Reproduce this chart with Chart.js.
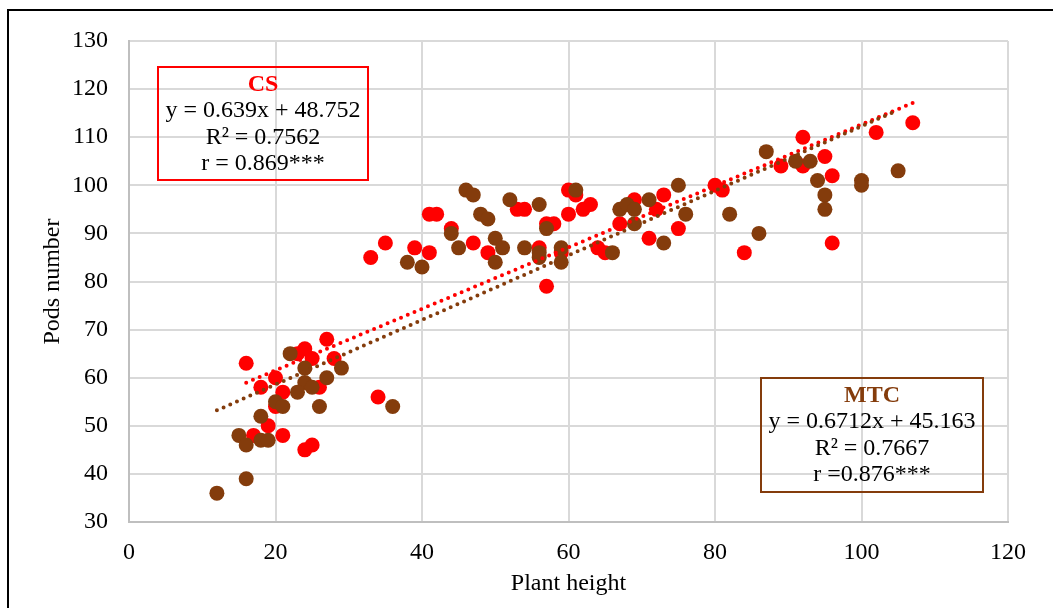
<!DOCTYPE html>
<html>
<head>
<meta charset="utf-8">
<script src="https://cdn.jsdelivr.net/npm/chart.js@4.4.0/dist/chart.umd.min.js"></script>
<style>
    html, body {
        margin: 0;
        padding: 0;
        background: #fff;
        overflow: hidden;
    }
    #wrap {
        position: relative;
        width: 1053px;
        height: 608px;
    }
    #frame {
        position: absolute;
        left: 7px;
        top: 9px;
        width: 1060px;
        height: 700px;
        border: 2px solid #000;
    }
    canvas {
        position: absolute;
        left: 0;
        top: 0;
    }
    .note {
        position: absolute;
        box-sizing: border-box;
        border: 2px solid;
        text-align: center;
        font-family: "Liberation Serif", "Times New Roman", serif;
        font-size: 24px;
        line-height: 26.4px;
        color: #000;
        padding-top: 2px;
    }
    .note b {
        display: block;
    }
</style>
</head>
<body>
<div id="wrap">
    <div id="frame"></div>
    <canvas id="scatter-chart" width="1053" height="608"></canvas>
    <div class="note" id="note-cs" style="left:157px; top:66px; width:212px; height:115px; border-color:#FF0000;">
        <b style="color:#FF0000">CS</b>
        y = 0.639x + 48.752<br>
        R² = 0.7562<br>
        r = 0.869***
    </div>
    <div class="note" id="note-mtc" style="left:760px; top:377px; width:224px; height:116px; border-color:#843C0C;">
        <b style="color:#843C0C">MTC</b>
        y = 0.6712x + 45.163<br>
        R² = 0.7667<br>
        r =0.876***
    </div>
</div>
<script>
// CS (red) series
const cs_x = [16, 27, 24, 23, 25, 28, 20, 18, 21, 26, 20, 19, 17, 21, 24, 25, 34,
    33, 35, 41, 42, 39, 41, 44, 47, 49, 53, 54, 56, 57, 58, 57,
    60, 61, 62, 63, 60, 59, 69, 67, 72, 73, 71, 75, 64, 65,
    80, 81, 84, 89, 92, 92, 95, 96, 96, 102, 107]
const cs_y = [63, 68, 66, 65, 64, 64, 60, 58, 57, 58, 54, 50, 48, 48, 45, 46, 56,
    85, 88, 94, 94, 87, 86, 91, 88, 86, 95, 95, 87, 92, 92, 79,
    99, 98, 95, 96, 94, 86, 97, 92, 95, 98, 89, 91, 87, 86,
    100, 99, 86, 104, 110, 104, 106, 102, 88, 111, 113]

// MTC (brown) series
const mtc_x = [22, 24, 29, 24, 25, 27, 23, 20, 21, 26, 18, 15, 16, 18, 19, 16, 12, 36,
    46, 47, 52, 56, 48, 49, 44, 50, 45, 51, 54, 56, 56, 38, 40, 50, 57,
    61, 59, 59, 67, 68, 69, 69, 71, 76, 75, 73, 66, 82,
    86, 87, 91, 93, 94, 95, 95, 100, 100, 105]
const mtc_y = [65, 62, 62, 59, 58, 60, 57, 55, 54, 54, 52, 48, 46, 47, 47, 39, 36, 54,
    99, 98, 97, 96, 94, 93, 90, 89, 87, 87, 87, 86, 85, 84, 83, 84, 91,
    99, 87, 84, 95, 96, 95, 92, 97, 94, 100, 88, 86, 94,
    90, 107, 105, 105, 101, 98, 95, 101, 100, 103]

// trend line coefficients [slope, intercept]
const cs_fit = [0.639, 48.752]
const mtc_fit = [0.6712, 45.163]

const x_ticks = [0, 20, 40, 60, 80, 100, 120]
const y_ticks = [30, 40, 50, 60, 70, 80, 90, 100, 110, 120, 130]

const RED = '#FF0000'
const BROWN = '#843C0C'
const FONT = "'Liberation Serif', 'Times New Roman', serif"

const toPoints = (xs, ys) => xs.map((x, i) => ({x: x, y: ys[i]}))

const trendPoints = (xs, fit) => {
    const lo = Math.min(...xs)
    const hi = Math.max(...xs)
    return [lo, hi].map(x => ({x: x, y: fit[0] * x + fit[1]}))
}

const dotted_line = (label, data, color, order) => ({
    type: 'line',
    label: label,
    data: data,
    borderColor: color,
    borderWidth: 4,
    borderDash: [0, 7.3],
    borderCapStyle: 'round',
    pointRadius: 0,
    fill: false,
    order: order
})

const ctx = document.getElementById('scatter-chart')

new Chart(ctx, {
    type: 'scatter',
    data: {
        datasets: [
            dotted_line('MTC trend', trendPoints(mtc_x, mtc_fit), BROWN, 0),
            dotted_line('CS trend', trendPoints(cs_x, cs_fit), RED, 1),
            {
                label: 'MTC',
                data: toPoints(mtc_x, mtc_y),
                backgroundColor: BROWN,
                borderWidth: 0,
                pointRadius: 7.5,
                order: 2
            },
            {
                label: 'CS',
                data: toPoints(cs_x, cs_y),
                backgroundColor: RED,
                borderWidth: 0,
                pointRadius: 7.5,
                order: 3
            }
        ]
    },
    options: {
        responsive: false,
        animation: false,
        layout: {
            padding: {left: 0, top: 41, right: 45, bottom: 0}
        },
        plugins: {
            legend: {display: false},
            tooltip: {enabled: false}
        },
        scales: {
            x: {
                type: 'linear',
                min: 0,
                max: 120,
                afterBuildTicks: (scale) => {
                    scale.ticks = x_ticks.map(v => ({value: v}))
                },
                afterFit: (scale) => {
                    scale.height = 86
                },
                grid: {
                    color: '#D9D9D9',
                    lineWidth: 2,
                    drawTicks: false
                },
                border: {color: '#BFBFBF', width: 2},
                ticks: {
                    color: '#000',
                    padding: 16,
                    font: {family: FONT, size: 24}
                },
                title: {
                    display: true,
                    text: 'Plant height',
                    color: '#000',
                    padding: {top: 0, bottom: 10},
                    font: {family: FONT, size: 24, lineHeight: 1.2}
                }
            },
            y: {
                type: 'linear',
                min: 30,
                max: 130,
                afterBuildTicks: (scale) => {
                    scale.ticks = y_ticks.map(v => ({value: v}))
                },
                afterFit: (scale) => {
                    scale.width = 129
                },
                grid: {
                    color: '#D9D9D9',
                    lineWidth: 2,
                    drawTicks: false
                },
                border: {color: '#BFBFBF', width: 2},
                ticks: {
                    color: '#000',
                    padding: 21,
                    font: {family: FONT, size: 24}
                },
                title: {
                    display: true,
                    text: 'Pods number',
                    color: '#000',
                    padding: {top: 38, bottom: 0},
                    font: {family: FONT, size: 24, lineHeight: 1.2}
                }
            }
        }
    }
})
</script>
</body>
</html>
